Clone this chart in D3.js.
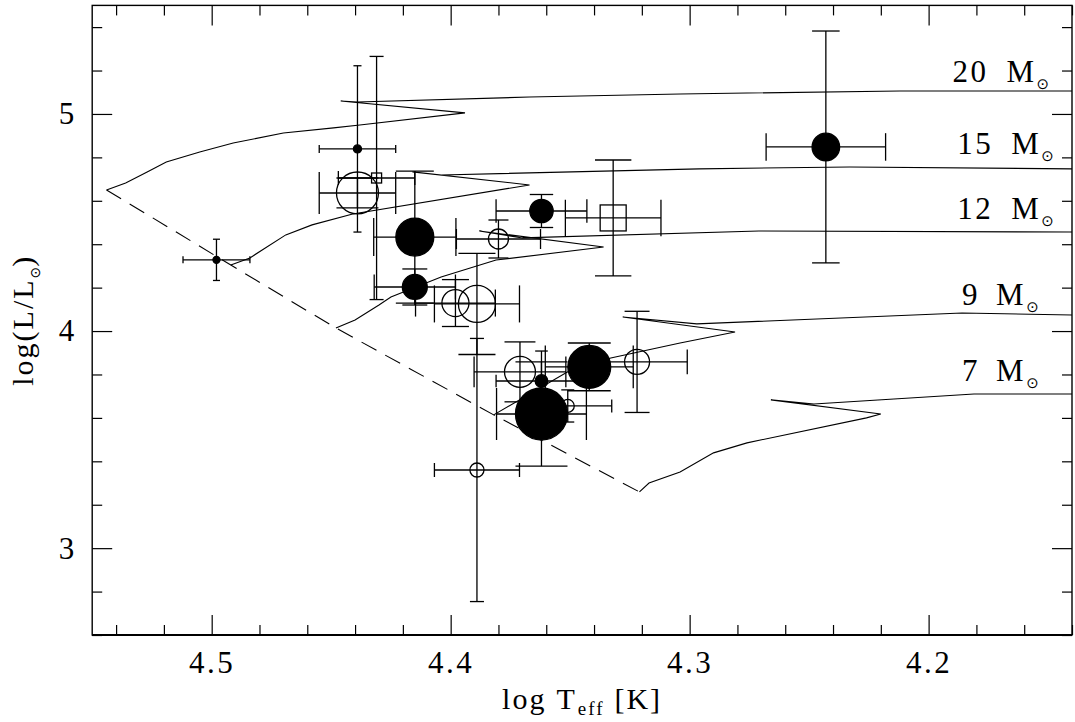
<!DOCTYPE html>
<html>
<head>
<meta charset="utf-8">
<script src="https://cdn.jsdelivr.net/npm/d3@7"></script>
<style>
body { margin: 0; background: #fff; }
svg { display: block; }
text { font-family: "Liberation Serif", "DejaVu Serif", serif; fill: #000; }
</style>
</head>
<body>
<svg id="chart" width="1075" height="722"></svg>
<script>
// evolutionary tracks, [log Teff, log L/Lsun], ZAMS point first
var track20 = [[4.544, 4.650], [4.536, 4.682], [4.527, 4.733], [4.519, 4.779], [4.505, 4.825], [4.491, 4.866],
    [4.470, 4.912], [4.449, 4.936], [4.438, 4.949], [4.394, 5.005], [4.446, 5.060], [4.439, 5.055],
    [4.367, 5.078], [4.304, 5.092], [4.212, 5.106], [4.14, 5.106]];
var track15 = [[4.492, 4.304], [4.484, 4.337], [4.469, 4.443], [4.458, 4.489], [4.441, 4.539], [4.367, 4.673],
    [4.416, 4.733], [4.404, 4.719], [4.296, 4.747], [4.233, 4.756], [4.14, 4.747]];
var track12 = [[4.448, 4.014], [4.440, 4.051], [4.430, 4.120], [4.425, 4.157], [4.404, 4.249], [4.381, 4.327],
    [4.336, 4.387], [4.388, 4.461], [4.370, 4.429], [4.271, 4.461], [4.14, 4.456]];
var track9 = [[4.382, 3.614], [4.351, 3.812], [4.333, 3.876], [4.304, 3.945], [4.281, 3.996], [4.328, 4.065],
    [4.297, 4.033], [4.186, 4.083], [4.14, 4.074]];
var track7 = [[4.321, 3.259], [4.317, 3.300], [4.304, 3.351], [4.290, 3.439], [4.276, 3.485], [4.226, 3.600],
    [4.220, 3.618], [4.266, 3.683], [4.248, 3.664], [4.181, 3.710], [4.14, 3.710]];

var masses = [20, 15, 12, 9, 7];
var labelT = [4.190, 4.188, 4.188, 4.186, 4.186];
var labelL = [5.147, 4.816, 4.516, 4.120, 3.770];

// stars
var starT = [4.498, 4.439, 4.439, 4.431, 4.415, 4.415, 4.398, 4.389, 4.389, 4.380,
    4.362, 4.332, 4.243, 4.371, 4.362, 4.342, 4.351, 4.322, 4.362];
var starL = [4.328, 4.839, 4.636, 4.705, 4.433, 4.203, 4.129, 4.125, 3.360, 4.424,
    4.553, 4.521, 4.848, 3.812, 3.618, 3.835, 3.655, 3.858, 3.770];
var errT = [0.014, 0.016, 0.016, 0.016, 0.0172, 0.017, 0.0167, 0.0178, 0.0178, 0.0176,
    0.019, 0.020, 0.025, 0.0192, 0.0188, 0.0184, 0.0184, 0.021, 0.019];
var errL = [0.095, 0.383, 0.069, 0.56, 0.304, 0.083, 0.108, 0.233, 0.606, 0.0875,
    0.076, 0.267, 0.534, 0.138, 0.24, 0.11, 0.074, 0.233, 0.138];
var starSym = ["filled", "filled", "open", "square", "filled", "filled", "open", "open", "open", "open",
    "filled", "square", "filled", "open", "filled", "filled", "open", "open", "filled"];
var starMag = [0.54, 0.62, 3.23, 0.77, 2.92, 1.92, 2.08, 2.85, 1.08, 1.54,
    1.8, 2.0, 2.12, 2.38, 4.0, 3.3, 1.0, 1.92, 0.97];

var xMajor = [4.5, 4.4, 4.3, 4.2];
var yMajor = [3, 4, 5];

var svg = d3.select("#chart");

var x = d3.scaleLinear().domain([4.55, 4.14]).range([92.2, 1072]),
    y = d3.scaleLinear().domain([2.6, 5.5]).range([635, 5.4]),
    sz = d3.scaleLinear().domain([0, 4]).range([0, 26]);

var isMajor = function(v, step) { return Math.abs(v / step - Math.round(v / step)) < 1e-6; };
var xMinor = d3.range(4.54, 4.139, -0.02).filter(function(v) { return !isMajor(v, 0.1); });
var yMinor = d3.range(2.6, 5.51, 0.2).filter(function(v) { return !isMajor(v, 1); });

// axes, ticks pointing inwards on all four sides
function addAxis(axis, tr) {
    var g = svg.append("g").attr("transform", tr).call(axis);
    g.select(".domain").remove();
    g.selectAll(".tick line").attr("stroke", "#000").attr("stroke-width", 1.2);
    g.attr("font-family", "Liberation Serif, DejaVu Serif, serif").attr("font-size", 31);
    g.selectAll(".tick text").attr("fill", "#000");
    return g;
}

var bottom = addAxis(d3.axisBottom(x).tickValues(xMajor).tickSize(-20).tickPadding(16).tickFormat(d3.format(".1f")), "translate(0,635)");
bottom.selectAll(".tick text").attr("letter-spacing", 2.5);
addAxis(d3.axisBottom(x).tickValues(xMinor).tickSize(-10).tickFormat(""), "translate(0,635)");
addAxis(d3.axisTop(x).tickValues(xMajor).tickSize(-20).tickFormat(""), "translate(0,5.4)");
addAxis(d3.axisTop(x).tickValues(xMinor).tickSize(-10).tickFormat(""), "translate(0,5.4)");
addAxis(d3.axisLeft(y).tickValues(yMajor).tickSize(-20).tickPadding(18).tickFormat(d3.format("d")), "translate(92.2,0)");
addAxis(d3.axisLeft(y).tickValues(yMinor).tickSize(-10).tickFormat(""), "translate(92.2,0)");
addAxis(d3.axisRight(y).tickValues(yMajor).tickSize(-20).tickFormat(""), "translate(1072,0)");
addAxis(d3.axisRight(y).tickValues(yMinor).tickSize(-10).tickFormat(""), "translate(1072,0)");

svg.append("rect")
    .attr("x", x(4.55)).attr("y", y(5.5))
    .attr("width", x(4.14) - x(4.55)).attr("height", y(2.6) - y(5.5))
    .attr("fill", "none").attr("stroke", "#000").attr("stroke-width", 1.4);
svg.append("line")
    .attr("x1", x(4.55)).attr("x2", x(4.14)).attr("y1", y(2.6)).attr("y2", y(2.6))
    .attr("stroke", "#000").attr("stroke-width", 2.2);

var plot = svg.append("g");

var line = d3.line()
    .x(function(d) { return x(d[0]); })
    .y(function(d) { return y(d[1]); });

var tracks = [track20, track15, track12, track9, track7];

// ZAMS through the first point of each track
plot.append("path")
    .attr("d", line(tracks.map(function(t) { return t[0]; })))
    .attr("fill", "none").attr("stroke", "#000").attr("stroke-width", 1.1)
    .attr("stroke-dasharray", "17,10");

plot.selectAll("path.track").data(tracks).enter().append("path")
    .attr("class", "track")
    .attr("d", line)
    .attr("fill", "none").attr("stroke", "#000").attr("stroke-width", 1.1)
    .attr("stroke-linejoin", "miter");

// mass labels
var lab = plot.selectAll("text.mass").data(masses).enter().append("text")
    .attr("class", "mass")
    .attr("x", function(d, i) { return x(labelT[i]); })
    .attr("y", function(d, i) { return y(labelL[i]); })
    .attr("font-size", 31)
    .attr("letter-spacing", 2.5);
lab.append("tspan").text(function(d) { return d; });
lab.append("tspan").attr("dx", function(d) { return d < 10 ? 16 : 18; }).text("M");
lab.append("tspan")
    .attr("font-family", "DejaVu Sans").attr("font-size", 15).attr("letter-spacing", 0)
    .attr("dx", 0).attr("dy", 7)
    .text("\u2299");

// stars
var idx = d3.range(starT.length);
var rad = function(i) { return sz(starMag[i]); };
var cap = function(i) { return starSym[i] === "square" ? rad(i) * 1.4 : rad(i); };

var eb = plot.append("g")
    .attr("stroke", "#000").attr("stroke-width", 1.3).attr("fill", "none");

idx.forEach(function(i) {
    var cx = x(starT[i]), cy = y(starL[i]),
        x0 = x(starT[i] + errT[i]), x1 = x(starT[i] - errT[i]),
        y0 = y(starL[i] + errL[i]), y1 = y(starL[i] - errL[i]),
        c = cap(i);
    eb.append("line").attr("x1", x0).attr("x2", x1).attr("y1", cy).attr("y2", cy);
    eb.append("line").attr("x1", x0).attr("x2", x0).attr("y1", cy - c).attr("y2", cy + c);
    eb.append("line").attr("x1", x1).attr("x2", x1).attr("y1", cy - c).attr("y2", cy + c);
    eb.append("line").attr("x1", cx).attr("x2", cx).attr("y1", y0).attr("y2", y1);
    eb.append("line").attr("x1", cx - c).attr("x2", cx + c).attr("y1", y0).attr("y2", y0);
    eb.append("line").attr("x1", cx - c).attr("x2", cx + c).attr("y1", y1).attr("y2", y1);
});

plot.selectAll("circle.star").data(idx.filter(function(i) { return starSym[i] !== "square"; }))
    .enter().append("circle")
    .attr("class", "star")
    .attr("cx", function(i) { return x(starT[i]); })
    .attr("cy", function(i) { return y(starL[i]); })
    .attr("r", rad)
    .attr("fill", function(i) { return starSym[i] === "filled" ? "#000" : "none"; })
    .attr("stroke", "#000").attr("stroke-width", 1.3);

plot.selectAll("rect.star").data(idx.filter(function(i) { return starSym[i] === "square"; }))
    .enter().append("rect")
    .attr("class", "star")
    .attr("x", function(i) { return x(starT[i]) - rad(i); })
    .attr("y", function(i) { return y(starL[i]) - rad(i); })
    .attr("width", function(i) { return 2 * rad(i); })
    .attr("height", function(i) { return 2 * rad(i); })
    .attr("fill", "none").attr("stroke", "#000").attr("stroke-width", 1.3);

// axis titles
var xt = svg.append("text")
    .attr("x", (x(4.55) + x(4.14)) / 2).attr("y", 709)
    .attr("text-anchor", "middle").attr("font-size", 30).attr("letter-spacing", 2);
xt.append("tspan").text("log");
xt.append("tspan").attr("dx", 10).text("T");
xt.append("tspan").attr("font-size", 19).attr("dy", 6).attr("dx", 1).text("eff");
xt.append("tspan").attr("font-size", 30).attr("dy", -6).attr("dx", 10).text("[K]");

var yt = svg.append("text")
    .attr("transform", "translate(33," + ((y(5.5) + y(2.6)) / 2) + ") rotate(-90)")
    .attr("text-anchor", "middle").attr("font-size", 30).attr("letter-spacing", 2);
yt.append("tspan").text("log(L/L");
yt.append("tspan")
    .attr("font-family", "DejaVu Sans").attr("font-size", 14).attr("letter-spacing", 0)
    .attr("dy", 7).text("\u2299");
yt.append("tspan").attr("dy", -7).text(")");
</script>
</body>
</html>
